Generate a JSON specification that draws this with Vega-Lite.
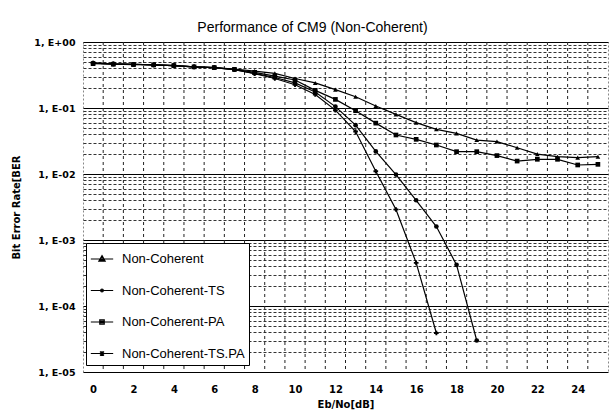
{
  "$schema": "https://vega.github.io/schema/vega-lite/v6.json",
  "width": 525,
  "height": 330,
  "autosize": {"type": "none"},
  "padding": {"left": 83, "top": 42, "right": 7, "bottom": 42},
  "background": "white",
  "title": {"text": "Performance of CM9 (Non-Coherent)", "anchor": "middle", "dx": -33, "offset": 2, "fontSize": 14, "fontWeight": "normal", "font": "Liberation Sans", "color": "black"},
  "config": {
    "view": {"stroke": "#888", "strokeDash": [2, 2]},
    "font": "Liberation Sans"
  },
  "datasets": {
    "ber": [
      {"x": 0, "ber": 0.48, "series": "Non-Coherent"},
      {"x": 1, "ber": 0.465, "series": "Non-Coherent"},
      {"x": 2, "ber": 0.46, "series": "Non-Coherent"},
      {"x": 3, "ber": 0.45, "series": "Non-Coherent"},
      {"x": 4, "ber": 0.44, "series": "Non-Coherent"},
      {"x": 5, "ber": 0.42, "series": "Non-Coherent"},
      {"x": 6, "ber": 0.41, "series": "Non-Coherent"},
      {"x": 7, "ber": 0.39, "series": "Non-Coherent"},
      {"x": 8, "ber": 0.363, "series": "Non-Coherent"},
      {"x": 9, "ber": 0.335, "series": "Non-Coherent"},
      {"x": 10, "ber": 0.28, "series": "Non-Coherent"},
      {"x": 11, "ber": 0.24, "series": "Non-Coherent"},
      {"x": 12, "ber": 0.19, "series": "Non-Coherent"},
      {"x": 13, "ber": 0.148, "series": "Non-Coherent"},
      {"x": 14, "ber": 0.107, "series": "Non-Coherent"},
      {"x": 15, "ber": 0.08, "series": "Non-Coherent"},
      {"x": 16, "ber": 0.06, "series": "Non-Coherent"},
      {"x": 17, "ber": 0.0475, "series": "Non-Coherent"},
      {"x": 18, "ber": 0.0413, "series": "Non-Coherent"},
      {"x": 19, "ber": 0.0327, "series": "Non-Coherent"},
      {"x": 20, "ber": 0.031, "series": "Non-Coherent"},
      {"x": 21, "ber": 0.025, "series": "Non-Coherent"},
      {"x": 22, "ber": 0.02, "series": "Non-Coherent"},
      {"x": 23, "ber": 0.0183, "series": "Non-Coherent"},
      {"x": 24, "ber": 0.0177, "series": "Non-Coherent"},
      {"x": 25, "ber": 0.0183, "series": "Non-Coherent"},
      {"x": 0, "ber": 0.48, "series": "Non-Coherent-TS"},
      {"x": 1, "ber": 0.465, "series": "Non-Coherent-TS"},
      {"x": 2, "ber": 0.46, "series": "Non-Coherent-TS"},
      {"x": 3, "ber": 0.45, "series": "Non-Coherent-TS"},
      {"x": 4, "ber": 0.44, "series": "Non-Coherent-TS"},
      {"x": 5, "ber": 0.42, "series": "Non-Coherent-TS"},
      {"x": 6, "ber": 0.41, "series": "Non-Coherent-TS"},
      {"x": 7, "ber": 0.38, "series": "Non-Coherent-TS"},
      {"x": 8, "ber": 0.335, "series": "Non-Coherent-TS"},
      {"x": 9, "ber": 0.29, "series": "Non-Coherent-TS"},
      {"x": 10, "ber": 0.24, "series": "Non-Coherent-TS"},
      {"x": 11, "ber": 0.175, "series": "Non-Coherent-TS"},
      {"x": 12, "ber": 0.105, "series": "Non-Coherent-TS"},
      {"x": 13, "ber": 0.055, "series": "Non-Coherent-TS"},
      {"x": 14, "ber": 0.022, "series": "Non-Coherent-TS"},
      {"x": 15, "ber": 0.0098, "series": "Non-Coherent-TS"},
      {"x": 16, "ber": 0.004, "series": "Non-Coherent-TS"},
      {"x": 17, "ber": 0.0016, "series": "Non-Coherent-TS"},
      {"x": 18, "ber": 0.00042, "series": "Non-Coherent-TS"},
      {"x": 19, "ber": 0.00003, "series": "Non-Coherent-TS"},
      {"x": 0, "ber": 0.47, "series": "Non-Coherent-PA"},
      {"x": 1, "ber": 0.46, "series": "Non-Coherent-PA"},
      {"x": 2, "ber": 0.455, "series": "Non-Coherent-PA"},
      {"x": 3, "ber": 0.45, "series": "Non-Coherent-PA"},
      {"x": 4, "ber": 0.44, "series": "Non-Coherent-PA"},
      {"x": 5, "ber": 0.42, "series": "Non-Coherent-PA"},
      {"x": 6, "ber": 0.41, "series": "Non-Coherent-PA"},
      {"x": 7, "ber": 0.385, "series": "Non-Coherent-PA"},
      {"x": 8, "ber": 0.347, "series": "Non-Coherent-PA"},
      {"x": 9, "ber": 0.305, "series": "Non-Coherent-PA"},
      {"x": 10, "ber": 0.266, "series": "Non-Coherent-PA"},
      {"x": 11, "ber": 0.185, "series": "Non-Coherent-PA"},
      {"x": 12, "ber": 0.135, "series": "Non-Coherent-PA"},
      {"x": 13, "ber": 0.091, "series": "Non-Coherent-PA"},
      {"x": 14, "ber": 0.059, "series": "Non-Coherent-PA"},
      {"x": 15, "ber": 0.039, "series": "Non-Coherent-PA"},
      {"x": 16, "ber": 0.0335, "series": "Non-Coherent-PA"},
      {"x": 17, "ber": 0.0275, "series": "Non-Coherent-PA"},
      {"x": 18, "ber": 0.0218, "series": "Non-Coherent-PA"},
      {"x": 19, "ber": 0.0218, "series": "Non-Coherent-PA"},
      {"x": 20, "ber": 0.019, "series": "Non-Coherent-PA"},
      {"x": 21, "ber": 0.0157, "series": "Non-Coherent-PA"},
      {"x": 22, "ber": 0.0167, "series": "Non-Coherent-PA"},
      {"x": 23, "ber": 0.0167, "series": "Non-Coherent-PA"},
      {"x": 24, "ber": 0.0137, "series": "Non-Coherent-PA"},
      {"x": 25, "ber": 0.014, "series": "Non-Coherent-PA"},
      {"x": 0, "ber": 0.48, "series": "Non-Coherent-TS.PA"},
      {"x": 1, "ber": 0.465, "series": "Non-Coherent-TS.PA"},
      {"x": 2, "ber": 0.46, "series": "Non-Coherent-TS.PA"},
      {"x": 3, "ber": 0.45, "series": "Non-Coherent-TS.PA"},
      {"x": 4, "ber": 0.44, "series": "Non-Coherent-TS.PA"},
      {"x": 5, "ber": 0.42, "series": "Non-Coherent-TS.PA"},
      {"x": 6, "ber": 0.41, "series": "Non-Coherent-TS.PA"},
      {"x": 7, "ber": 0.38, "series": "Non-Coherent-TS.PA"},
      {"x": 8, "ber": 0.33, "series": "Non-Coherent-TS.PA"},
      {"x": 9, "ber": 0.28, "series": "Non-Coherent-TS.PA"},
      {"x": 10, "ber": 0.225, "series": "Non-Coherent-TS.PA"},
      {"x": 11, "ber": 0.16, "series": "Non-Coherent-TS.PA"},
      {"x": 12, "ber": 0.093, "series": "Non-Coherent-TS.PA"},
      {"x": 13, "ber": 0.044, "series": "Non-Coherent-TS.PA"},
      {"x": 14, "ber": 0.011, "series": "Non-Coherent-TS.PA"},
      {"x": 15, "ber": 0.0029, "series": "Non-Coherent-TS.PA"},
      {"x": 16, "ber": 0.00045, "series": "Non-Coherent-TS.PA"},
      {"x": 17, "ber": 0.000039, "series": "Non-Coherent-TS.PA"}
    ],
    "xgrid": [
      {"gx": 0.5}, {"gx": 1.5}, {"gx": 2.5}, {"gx": 3.5}, {"gx": 4.5}, {"gx": 5.5}, {"gx": 6.5}, {"gx": 7.5}, {"gx": 8.5}, {"gx": 9.5},
      {"gx": 10.5}, {"gx": 11.5}, {"gx": 12.5}, {"gx": 13.5}, {"gx": 14.5}, {"gx": 15.5}, {"gx": 16.5}, {"gx": 17.5}, {"gx": 18.5}, {"gx": 19.5},
      {"gx": 20.5}, {"gx": 21.5}, {"gx": 22.5}, {"gx": 23.5}, {"gx": 24.5}
    ]
  },
  "layer": [
    {
      "data": {"name": "xgrid"},
      "mark": {"type": "rule", "color": "#222", "strokeWidth": 1, "strokeDash": [3, 3]},
      "encoding": {
        "x": {"field": "gx", "type": "quantitative", "scale": {"domain": [-0.5, 25.5], "nice": false, "zero": false},
          "axis": {"values": [-0.5, 0.5, 1.5, 2.5, 3.5, 4.5, 5.5, 6.5, 7.5, 8.5, 9.5, 10.5, 11.5, 12.5, 13.5, 14.5, 15.5, 16.5, 17.5, 18.5, 19.5, 20.5, 21.5, 22.5, 23.5, 24.5],
            "labelExpr": "(datum.value + 0.5) % 2 == 0 ? '' + (datum.value + 0.5) : ''",
            "labelOffset": 10.1, "labelOverlap": false, "grid": false,
            "ticks": false, "tickSize": 0, "domain": false,
            "labelPadding": 12, "labelFontSize": 10, "labelFontWeight": "bold", "labelColor": "black", "labelFont": "DejaVu Sans", "labelFlush": false,
            "title": "Eb/No[dB]", "titleFontSize": 10, "titleFontWeight": "bold", "titleColor": "black", "titlePadding": 5, "titleFont": "DejaVu Sans"}}
      }
    },
    {
      "data": {"name": "ber"},
      "mark": {"type": "line", "color": "black", "strokeWidth": 1.2},
      "encoding": {
        "x": {"field": "x", "type": "quantitative"},
        "y": {"field": "ber", "type": "quantitative", "scale": {"type": "log", "domain": [0.00001, 1], "nice": false},
          "axis": {"values": [0.00001, 0.00002, 0.00003, 0.00004, 0.00005, 0.00006, 0.00007, 0.00008, 0.00009, 0.0001, 0.0002, 0.0003, 0.0004, 0.0005, 0.0006, 0.0007, 0.0008, 0.0009, 0.001, 0.002, 0.003, 0.004, 0.005, 0.006, 0.007, 0.008, 0.009, 0.01, 0.02, 0.03, 0.04, 0.05, 0.06, 0.07, 0.08, 0.09, 0.1, 0.2, 0.3, 0.4, 0.5, 0.6, 0.7, 0.8, 0.9, 1],
            "grid": true, "gridOpacity": 1,
            "gridColor": {"condition": {"test": "abs(log(datum.value) / LN10 - round(log(datum.value) / LN10)) < 0.001", "value": "black"}, "value": "#333"},
            "gridDash": {"condition": {"test": "abs(log(datum.value) / LN10 - round(log(datum.value) / LN10)) < 0.001", "value": []}, "value": [3, 2]},
            "gridWidth": 1,
            "ticks": false, "tickSize": 0, "domain": false, "labelPadding": 8, "labelFontSize": 9.5, "labelFontWeight": "bold", "labelColor": "black", "labelFont": "DejaVu Sans", "labelOverlap": false, "labelFlush": false,
            "labelExpr": "abs(log(datum.value) / LN10 - round(log(datum.value) / LN10)) < 0.001 ? (datum.value >= 1 ? '1, E+00' : '1, E-0' + round(-log(datum.value) / LN10)) : ''",
            "title": "Bit Error Rate[BER", "titleFontSize": 10, "titleFontWeight": "bold", "titleColor": "black", "titlePadding": 12, "titleFont": "DejaVu Sans"}},
        "detail": {"field": "series"}
      }
    },
    {
      "data": {"name": "ber"},
      "mark": {"type": "point", "filled": true, "color": "black", "size": 22, "opacity": 1},
      "encoding": {
        "x": {"field": "x", "type": "quantitative"},
        "y": {"field": "ber", "type": "quantitative"},
        "shape": {"field": "series", "type": "nominal", "legend": null,
          "scale": {"domain": ["Non-Coherent", "Non-Coherent-TS", "Non-Coherent-PA", "Non-Coherent-TS.PA"],
            "range": ["triangle-up", "circle", "square", "cross"]}}
      }
    },
    {
      "data": {"name": "ber"},
      "mark": {"type": "point", "filled": false, "color": "black", "strokeWidth": 1.2, "opacity": 0},
      "encoding": {
        "x": {"field": "x", "type": "quantitative"},
        "y": {"field": "ber", "type": "quantitative"},
        "shape": {"field": "series", "type": "nominal",
          "scale": {"domain": ["Non-Coherent", "Non-Coherent-TS", "Non-Coherent-PA", "Non-Coherent-TS.PA"],
            "range": [
              "M-1,0L1,0M0,-0.3L0.28,0.2L-0.28,0.2ZM-0.2,0.1L0.2,0.1M-0.13,0L0.13,0M-0.07,-0.12L0.07,-0.12",
              "M-1,0L1,0M0.12,0A0.12,0.12,0,1,1,-0.12,0A0.12,0.12,0,1,1,0.12,0ZM-0.06,0L0.06,0",
              "M-1,0L1,0M-0.2,-0.2L0.2,-0.2L0.2,0.2L-0.2,0.2ZM-0.2,-0.08L0.2,-0.08M-0.2,0.08L0.2,0.08",
              "M-1,0L1,0M0,-0.22L0,0.22M-0.18,-0.18L0.18,0.18M-0.18,0.18L0.18,-0.18"]},
          "legend": {"orient": "none", "legendX": 3, "legendY": 201, "title": null, "symbolSize": 500, "symbolOpacity": 1,
            "symbolStrokeColor": "black", "symbolStrokeWidth": 1.2,
            "labelFontSize": 13, "labelFont": "Liberation Sans", "labelColor": "black", "labelLimit": 200, "labelOffset": 8,
            "rowPadding": 12.5, "padding": 4, "fillColor": "white", "strokeColor": "black", "cornerRadius": 0}}
      }
    }
  ],
  "resolve": {"scale": {"shape": "independent"}, "legend": {"shape": "independent"}}
}
